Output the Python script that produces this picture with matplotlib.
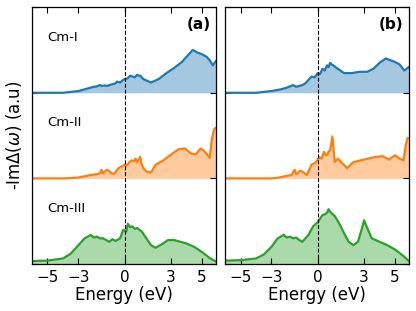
#!/usr/bin/env python
# coding: utf-8

# Stacked -Im Delta(omega) hybridization curves for Cm phases, panels (a) and (b)

import matplotlib
matplotlib.use("Agg")
import matplotlib.pyplot as plt

# ---- panel (a) ----
a_blue_x = [-6.0, -4.0, -3.0, -2.4, -2.0, -1.8, -1.6, -1.5, -1.3, -1.1, -1.0, -0.8, -0.6, -0.5, -0.3, -0.1, 0.0,
            0.2, 0.35, 0.5, 0.65, 0.8, 0.9, 1.0, 1.2, 1.7, 2.2, 2.7, 3.2, 3.7, 4.1, 4.4, 4.7, 5.0, 5.3, 5.5, 5.7, 5.9]
a_blue_y = [0.0, 0.0, 0.02, 0.05, 0.07, 0.075, 0.09, 0.08, 0.085, 0.08, 0.09, 0.1, 0.11, 0.13, 0.12, 0.15, 0.16,
            0.17, 0.2, 0.19, 0.18, 0.21, 0.2, 0.2, 0.16, 0.12, 0.16, 0.23, 0.29, 0.36, 0.44, 0.5, 0.47, 0.45, 0.42,
            0.38, 0.32, 0.37]

a_orange_x = [-6.0, -4.0, -3.0, -2.2, -1.8, -1.6, -1.5, -1.4, -1.3, -1.15, -1.0, -0.85, -0.7, -0.4, -0.2, 0.0, 0.15,
              0.3, 0.45, 0.6, 0.7, 0.8, 1.0, 1.1, 1.2, 1.4, 1.7, 2.0, 2.5, 3.0, 3.5, 3.9, 4.3, 4.6, 4.9, 5.2, 5.5,
              5.65, 5.8, 5.9]
a_orange_y = [0.0, 0.0, 0.01, 0.04, 0.05, 0.06, 0.1, 0.06, 0.08, 0.1, 0.085, 0.06, 0.05, 0.12, 0.14, 0.16, 0.15,
              0.19, 0.21, 0.2, 0.23, 0.19, 0.25, 0.16, 0.12, 0.08, 0.07, 0.16, 0.21, 0.28, 0.34, 0.35, 0.29, 0.28,
              0.35, 0.31, 0.24, 0.47, 0.58, 0.59]

a_green_x = [-6.0, -5.0, -4.0, -3.5, -3.0, -2.6, -2.2, -2.0, -1.8, -1.6, -1.4, -1.2, -1.0, -0.8, -0.6, -0.3, -0.1,
             0.1, 0.2, 0.35, 0.5, 0.65, 0.8, 1.1, 1.4, 1.7, 2.0, 2.4, 2.8, 3.2, 3.6, 4.0, 4.5, 5.0, 5.5, 5.9]
a_green_y = [0.035, 0.04, 0.065, 0.12, 0.22, 0.3, 0.34, 0.31, 0.32, 0.3, 0.3, 0.28, 0.26, 0.29, 0.27, 0.3, 0.4,
             0.38, 0.47, 0.43, 0.44, 0.41, 0.42, 0.38, 0.3, 0.22, 0.19, 0.23, 0.28, 0.28, 0.26, 0.24, 0.2, 0.14,
             0.07, 0.03]

# ---- panel (b) ----
b_blue_x = [-6.0, -4.0, -3.0, -2.4, -2.0, -1.6, -1.4, -1.2, -1.0, -0.8, -0.6, -0.4, -0.2, 0.0, 0.15, 0.3, 0.45, 0.6,
            0.7, 0.8, 0.9, 1.0, 1.3, 1.7, 2.2, 2.7, 3.2, 3.6, 4.0, 4.4, 4.7, 5.0, 5.3, 5.6, 5.9]
b_blue_y = [0.0, 0.0, 0.02, 0.04, 0.06, 0.09, 0.07, 0.08, 0.09, 0.11, 0.15, 0.19, 0.18, 0.23, 0.22, 0.28, 0.26,
            0.32, 0.3, 0.35, 0.33, 0.32, 0.28, 0.23, 0.23, 0.245, 0.245, 0.28, 0.35, 0.4, 0.38, 0.36, 0.33, 0.26, 0.3]

b_orange_x = [-6.0, -3.0, -2.5, -2.0, -1.7, -1.5, -1.4, -1.3, -1.15, -1.0, -0.85, -0.7, -0.4, -0.1, 0.1, 0.25, 0.4,
              0.5, 0.6, 0.7, 0.8, 0.95, 1.1, 1.3, 1.6, 1.9, 2.3, 3.0, 3.7, 4.2, 4.6, 5.0, 5.3, 5.55, 5.7, 5.8, 5.9]
b_orange_y = [0.0, 0.0, 0.01, 0.03, 0.04, 0.1, 0.05, 0.06, 0.09, 0.08, 0.06, 0.04, 0.16, 0.19, 0.25, 0.23, 0.31,
              0.28, 0.27, 0.31, 0.33, 0.49, 0.19, 0.23, 0.175, 0.12, 0.19, 0.22, 0.25, 0.26, 0.22, 0.27, 0.23, 0.21,
              0.39, 0.47, 0.47]

b_green_x = [-6.0, -5.0, -4.0, -3.5, -3.0, -2.6, -2.2, -2.0, -1.8, -1.6, -1.4, -1.2, -1.0, -0.8, -0.6, -0.3, 0.0, 0.3,
             0.45, 0.6, 0.7, 0.8, 1.1, 1.4, 1.7, 2.0, 2.3, 2.6, 2.8, 3.0, 3.2, 3.5, 4.0, 4.5, 5.0, 5.5, 5.9]
b_green_y = [0.04, 0.045, 0.065, 0.11, 0.2, 0.3, 0.34, 0.31, 0.32, 0.3, 0.31, 0.28, 0.26, 0.3, 0.34, 0.44, 0.49,
             0.57, 0.58, 0.6, 0.64, 0.61, 0.56, 0.47, 0.36, 0.26, 0.22, 0.26, 0.38, 0.51, 0.42, 0.3, 0.26, 0.22,
             0.17, 0.1, 0.035]

names = ["Cm-I", "Cm-II", "Cm-III"]
colors = ["tab:blue", "tab:orange", "tab:green"]
offsets = [2, 1, 0]
xticks = [-5, -3, 0, 3, 5]

panels = [
    ("(a)", [(a_blue_x, a_blue_y), (a_orange_x, a_orange_y), (a_green_x, a_green_y)]),
    ("(b)", [(b_blue_x, b_blue_y), (b_orange_x, b_orange_y), (b_green_x, b_green_y)]),
]

fig = plt.figure(figsize=(4.16, 3.11), dpi=100)
ax_a = fig.add_axes([0.077, 0.151, 0.442, 0.826])
ax_b = fig.add_axes([0.541, 0.151, 0.442, 0.826])

for ax, (tag, curves) in zip([ax_a, ax_b], panels):
    for (x, y), c, off, name in zip(curves, colors, offsets, names):
        ys = [v + off for v in y]
        ax.fill_between(x, off, ys, color=c, alpha=0.4, lw=0)
        ax.plot(x, ys, color=c, lw=1.6)
        if tag == "(a)":
            ax.text(-5, off + 0.65, name, fontsize=9.5, va="center", ha="left")
    ax.axvline(0, color="k", ls="--", lw=0.8)
    ax.set_xlim(-6, 5.9)
    ax.set_ylim(0, 3)
    ax.set_xticks(xticks)
    ax.set_xticklabels(["\u22125", "\u22123", "0", "3", "5"])
    ax.set_yticks([0, 1, 2, 3])
    ax.set_yticklabels([])
    ax.tick_params(direction="in", top=True, right=True, labelsize=11, length=4, pad=4)
    for s in ax.spines.values():
        s.set_linewidth(0.9)
    ax.set_xlabel("Energy (eV)", fontsize=12, labelpad=1)
    ax.text(0.97, 0.96, tag, transform=ax.transAxes, ha="right", va="top",
            fontsize=11, fontweight="bold")

ax_a.set_ylabel(r"-Im$\Delta(\omega)$ (a.u)", fontsize=12, labelpad=2)

plt.savefig("out.png", dpi=100)
print("Wrote out.png")
